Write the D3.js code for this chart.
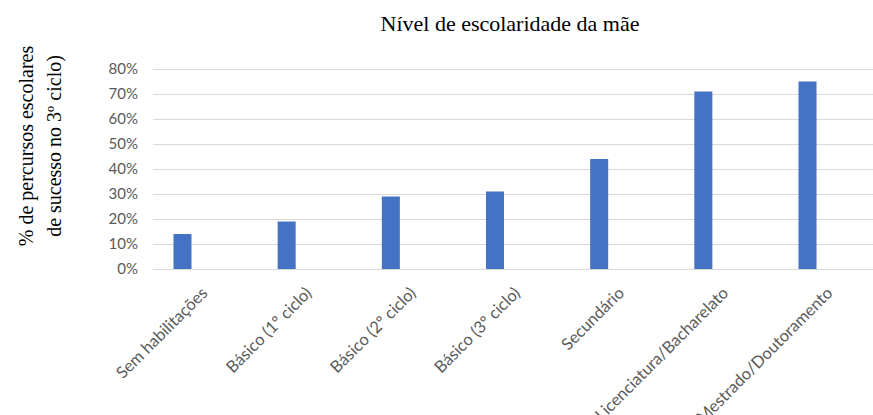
<!DOCTYPE html>
<html>
<head>
<meta charset="utf-8">
<script src="https://cdn.jsdelivr.net/npm/d3@7"></script>
<style>
  body { margin: 0; background: #fff; }
  svg { display: block; }
</style>
</head>
<body>
<svg id="chart" width="873" height="415"></svg>
<script>
const categories = ["Sem habilitações", "Básico (1º ciclo)", "Básico (2º ciclo)", "Básico (3º ciclo)", "Secundário", "Licenciatura/Bacharelato", "Mestrado/Doutoramento"];
const values = [0.14, 0.19, 0.29, 0.31, 0.44, 0.71, 0.75];
const yTicks = [0, 0.1, 0.2, 0.3, 0.4, 0.5, 0.6, 0.7, 0.8];
const title = "Nível de escolaridade da mãe";
const yTitle = ["% de percursos escolares", "de sucesso no 3º ciclo)"];

const svg = d3.select("#chart");
const x = d3.scaleBand().domain(categories).range([130.4, 859.6]).paddingInner(0.827).paddingOuter(0.4135);
const y = d3.scaleLinear().domain([0, 0.8]).range([269, 69]);

// gridlines
svg.append("g").selectAll("line").data(yTicks).join("line")
  .attr("x1", 153).attr("x2", 873)
  .attr("y1", d => y(d) + 0.5).attr("y2", d => y(d) + 0.5)
  .attr("stroke", "#d9d9d9").attr("stroke-width", 1);

// y axis labels
const yAxis = d3.axisLeft(y).tickValues(yTicks).tickFormat(d3.format(".0%")).tickSize(0).tickPadding(0);
const ya = svg.append("g").attr("transform", "translate(138,0)").call(yAxis);
ya.select(".domain").remove();
ya.selectAll("text").attr("font-family", "Lato, 'Open Sans', sans-serif").attr("font-size", 15).attr("fill", "#595959");

// bars
svg.append("g").selectAll("rect").data(values).join("rect")
  .attr("x", (d, i) => x(categories[i]))
  .attr("width", x.bandwidth())
  .attr("y", d => y(d))
  .attr("height", d => y(0) - y(d))
  .attr("fill", "#4472c4");

// x labels
const xa = svg.append("g").attr("transform", "translate(0,269)")
  .call(d3.axisBottom(x).tickSize(0).tickPadding(0));
xa.select(".domain").remove();
xa.selectAll("text")
  .attr("font-family", "Lato, 'Open Sans', sans-serif").attr("font-size", 16.5).attr("fill", "#595959")
  .attr("text-anchor", "end")
  .attr("transform", "translate(22,21) rotate(-45)")
  .attr("dy", "0.35em").attr("y", 0);

// title
svg.append("text").attr("x", 510).attr("y", 31).attr("text-anchor", "middle")
  .attr("font-family", "'Liberation Serif', 'Times New Roman', serif").attr("font-size", 22).attr("fill", "#000")
  .text(title);

// y title
const yt = svg.append("text").attr("transform", "translate(0,146) rotate(-90)")
  .attr("text-anchor", "middle")
  .attr("font-family", "'Liberation Serif', 'Times New Roman', serif").attr("font-size", 20).attr("fill", "#000");
yt.selectAll("tspan").data(yTitle).join("tspan")
  .attr("x", 0).attr("y", (d, i) => 33 + i * 28).text(d => d);
</script>
</body>
</html>
